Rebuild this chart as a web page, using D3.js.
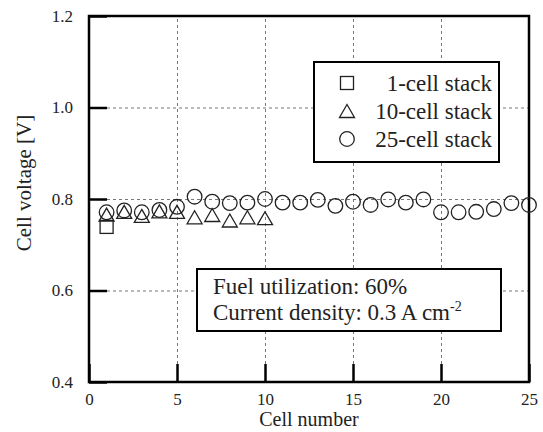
<!DOCTYPE html>
<html>
<head>
<style>
  body { margin: 0; background: #fff; }
  .grid line { stroke: #777; stroke-dasharray: 3,3; stroke-width: 1; }
  .grid .domain { display: none; }
  .axis .domain { display: none; }
  .axis line { stroke: #000; stroke-width: 2.5; }
  .axis text { font-size: 17px; fill: #222; }
</style>
<script src="https://d3js.org/d3.v7.min.js"></script>
</head>
<body>
<svg width="543" height="432"></svg>
<script>

// data
var cells1 = [1];
var volt1 = [0.739];

var cells10 = [1, 2, 3, 4, 5, 6, 7, 8, 9, 10];
var volt10 = [0.766, 0.772, 0.763, 0.773, 0.772, 0.760, 0.765, 0.753, 0.760, 0.758];

var cells25 = [1, 2, 3, 4, 5, 6, 7, 8, 9, 10, 11, 12, 13, 14, 15, 16, 17, 18, 19, 20, 21, 22, 23, 24, 25];
var volt25 = [0.771, 0.775, 0.771, 0.776, 0.783, 0.805, 0.794, 0.791, 0.792, 0.800,
              0.792, 0.792, 0.798, 0.785, 0.794, 0.787, 0.799, 0.792, 0.799, 0.771,
              0.771, 0.772, 0.778, 0.791, 0.787];

var xTicks = [0, 5, 10, 15, 20, 25];
var yTicks = [0.4, 0.6, 0.8, 1.0, 1.2];
var legendLabels = ["1-cell stack", "10-cell stack", "25-cell stack"];
var noteLines = ["Fuel utilization: 60%", "Current density: 0.3 A cm"];

var serif = "'Liberation Serif', Times, serif";

//set up svg
var svg = d3.select("svg"),
  margin = { top: 16, right: 14, bottom: 50, left: 89 },
  width = +svg.attr("width") - margin.left - margin.right,
  height = +svg.attr("height") - margin.top - margin.bottom,
  g = svg.append("g").attr("transform", "translate(" + margin.left + "," + margin.top + ")");

var x = d3.scaleLinear().domain([0, 25]).range([0, width]);
var y = d3.scaleLinear().domain([0.4, 1.2]).range([height, 0]);

// dashed grid
g.append("g")
  .attr("class", "grid")
  .attr("transform", "translate(0," + height + ")")
  .call(d3.axisBottom(x).tickValues([5, 10, 15, 20]).tickSize(-height).tickFormat(""));

g.append("g")
  .attr("class", "grid")
  .call(d3.axisLeft(y).tickValues([0.6, 0.8, 1.0]).tickSize(-width).tickFormat(""));

// axes with inward ticks
g.append("g")
  .attr("class", "axis")
  .attr("transform", "translate(0," + height + ")")
  .call(d3.axisBottom(x).tickValues(xTicks).tickSizeInner(-18).tickSizeOuter(0).tickPadding(11).tickFormat(d3.format("d")))
  .attr("font-family", serif);

g.append("g")
  .attr("class", "axis")
  .call(d3.axisLeft(y).tickValues(yTicks).tickSizeInner(-18).tickSizeOuter(0).tickPadding(16).tickFormat(d3.format(".1f")))
  .attr("font-family", serif);

// frame
g.append("rect")
  .attr("width", width)
  .attr("height", height)
  .attr("fill", "none")
  .attr("stroke", "#000")
  .attr("stroke-width", 2.5);

var triPath = "M0,-6.5L7.5,6.5L-7.5,6.5Z";

function drawSquares(sel, xs, vs) {
  sel.selectAll(null)
    .data(xs)
    .enter().append("rect")
    .attr("x", function(d) { return x(d) - 6.5; })
    .attr("y", function(d, i) { return y(vs[i]) - 6.5; })
    .attr("width", 13)
    .attr("height", 13)
    .attr("fill", "none")
    .attr("stroke", "#222")
    .attr("stroke-width", 1.3);
}

function drawTriangles(sel, xs, vs) {
  sel.selectAll(null)
    .data(xs)
    .enter().append("path")
    .attr("d", triPath)
    .attr("transform", function(d, i) { return "translate(" + x(d) + "," + y(vs[i]) + ")"; })
    .attr("fill", "none")
    .attr("stroke", "#222")
    .attr("stroke-width", 1.3);
}

function drawCircles(sel, xs, vs) {
  sel.selectAll(null)
    .data(xs)
    .enter().append("circle")
    .attr("cx", function(d) { return x(d); })
    .attr("cy", function(d, i) { return y(vs[i]); })
    .attr("r", 7.3)
    .attr("fill", "none")
    .attr("stroke", "#222")
    .attr("stroke-width", 1.3);
}

var marks = g.append("g");
drawSquares(marks, cells1, volt1);
drawTriangles(marks, cells10, volt10);
drawCircles(marks, cells25, volt25);

// axis titles
svg.append("text")
  .attr("x", margin.left + width / 2)
  .attr("y", 426)
  .attr("text-anchor", "middle")
  .attr("font-family", serif)
  .attr("font-size", 20)
  .attr("fill", "#222")
  .text("Cell number");

svg.append("text")
  .attr("transform", "translate(31,183) rotate(-90)")
  .attr("text-anchor", "middle")
  .attr("font-family", serif)
  .attr("font-size", 21)
  .attr("fill", "#222")
  .text("Cell voltage [V]");

// legend
var legend = svg.append("g");
legend.append("rect")
  .attr("x", 314).attr("y", 62)
  .attr("width", 185).attr("height", 100)
  .attr("fill", "#fff")
  .attr("stroke", "#000")
  .attr("stroke-width", 2);

var rows = legend.selectAll(".row")
  .data(legendLabels)
  .enter().append("g")
  .attr("class", "row")
  .attr("transform", function(d, i) { return "translate(0," + (83 + i * 28) + ")"; });

rows.append("text")
  .attr("x", 492)
  .attr("y", 7.5)
  .attr("text-anchor", "end")
  .attr("font-family", serif)
  .attr("font-size", 23)
  .attr("fill", "#222")
  .text(function(d) { return d; });

rows.each(function(d, i) {
  var r = d3.select(this);
  if (i === 0) {
    r.append("rect").attr("x", 340.5).attr("y", -6.5).attr("width", 13).attr("height", 13)
      .attr("fill", "none").attr("stroke", "#222").attr("stroke-width", 1.3);
  } else if (i === 1) {
    r.append("path").attr("d", triPath).attr("transform", "translate(347,0)")
      .attr("fill", "none").attr("stroke", "#222").attr("stroke-width", 1.3);
  } else {
    r.append("circle").attr("cx", 347).attr("cy", 0).attr("r", 7.3)
      .attr("fill", "none").attr("stroke", "#222").attr("stroke-width", 1.3);
  }
});

// condition note
var note = svg.append("g");
note.append("rect")
  .attr("x", 197).attr("y", 269)
  .attr("width", 304).attr("height", 62)
  .attr("fill", "#fff")
  .attr("stroke", "#000")
  .attr("stroke-width", 2);

note.append("text")
  .attr("x", 213).attr("y", 294)
  .attr("font-family", serif)
  .attr("font-size", 23).attr("fill", "#222")
  .text(noteLines[0]);

var t2 = note.append("text")
  .attr("x", 213).attr("y", 320)
  .attr("font-family", serif)
  .attr("font-size", 23).attr("fill", "#222")
  .text(noteLines[1]);
t2.append("tspan")
  .attr("dy", -9)
  .attr("font-size", 14)
  .text("-2");

</script>
</body>
</html>
